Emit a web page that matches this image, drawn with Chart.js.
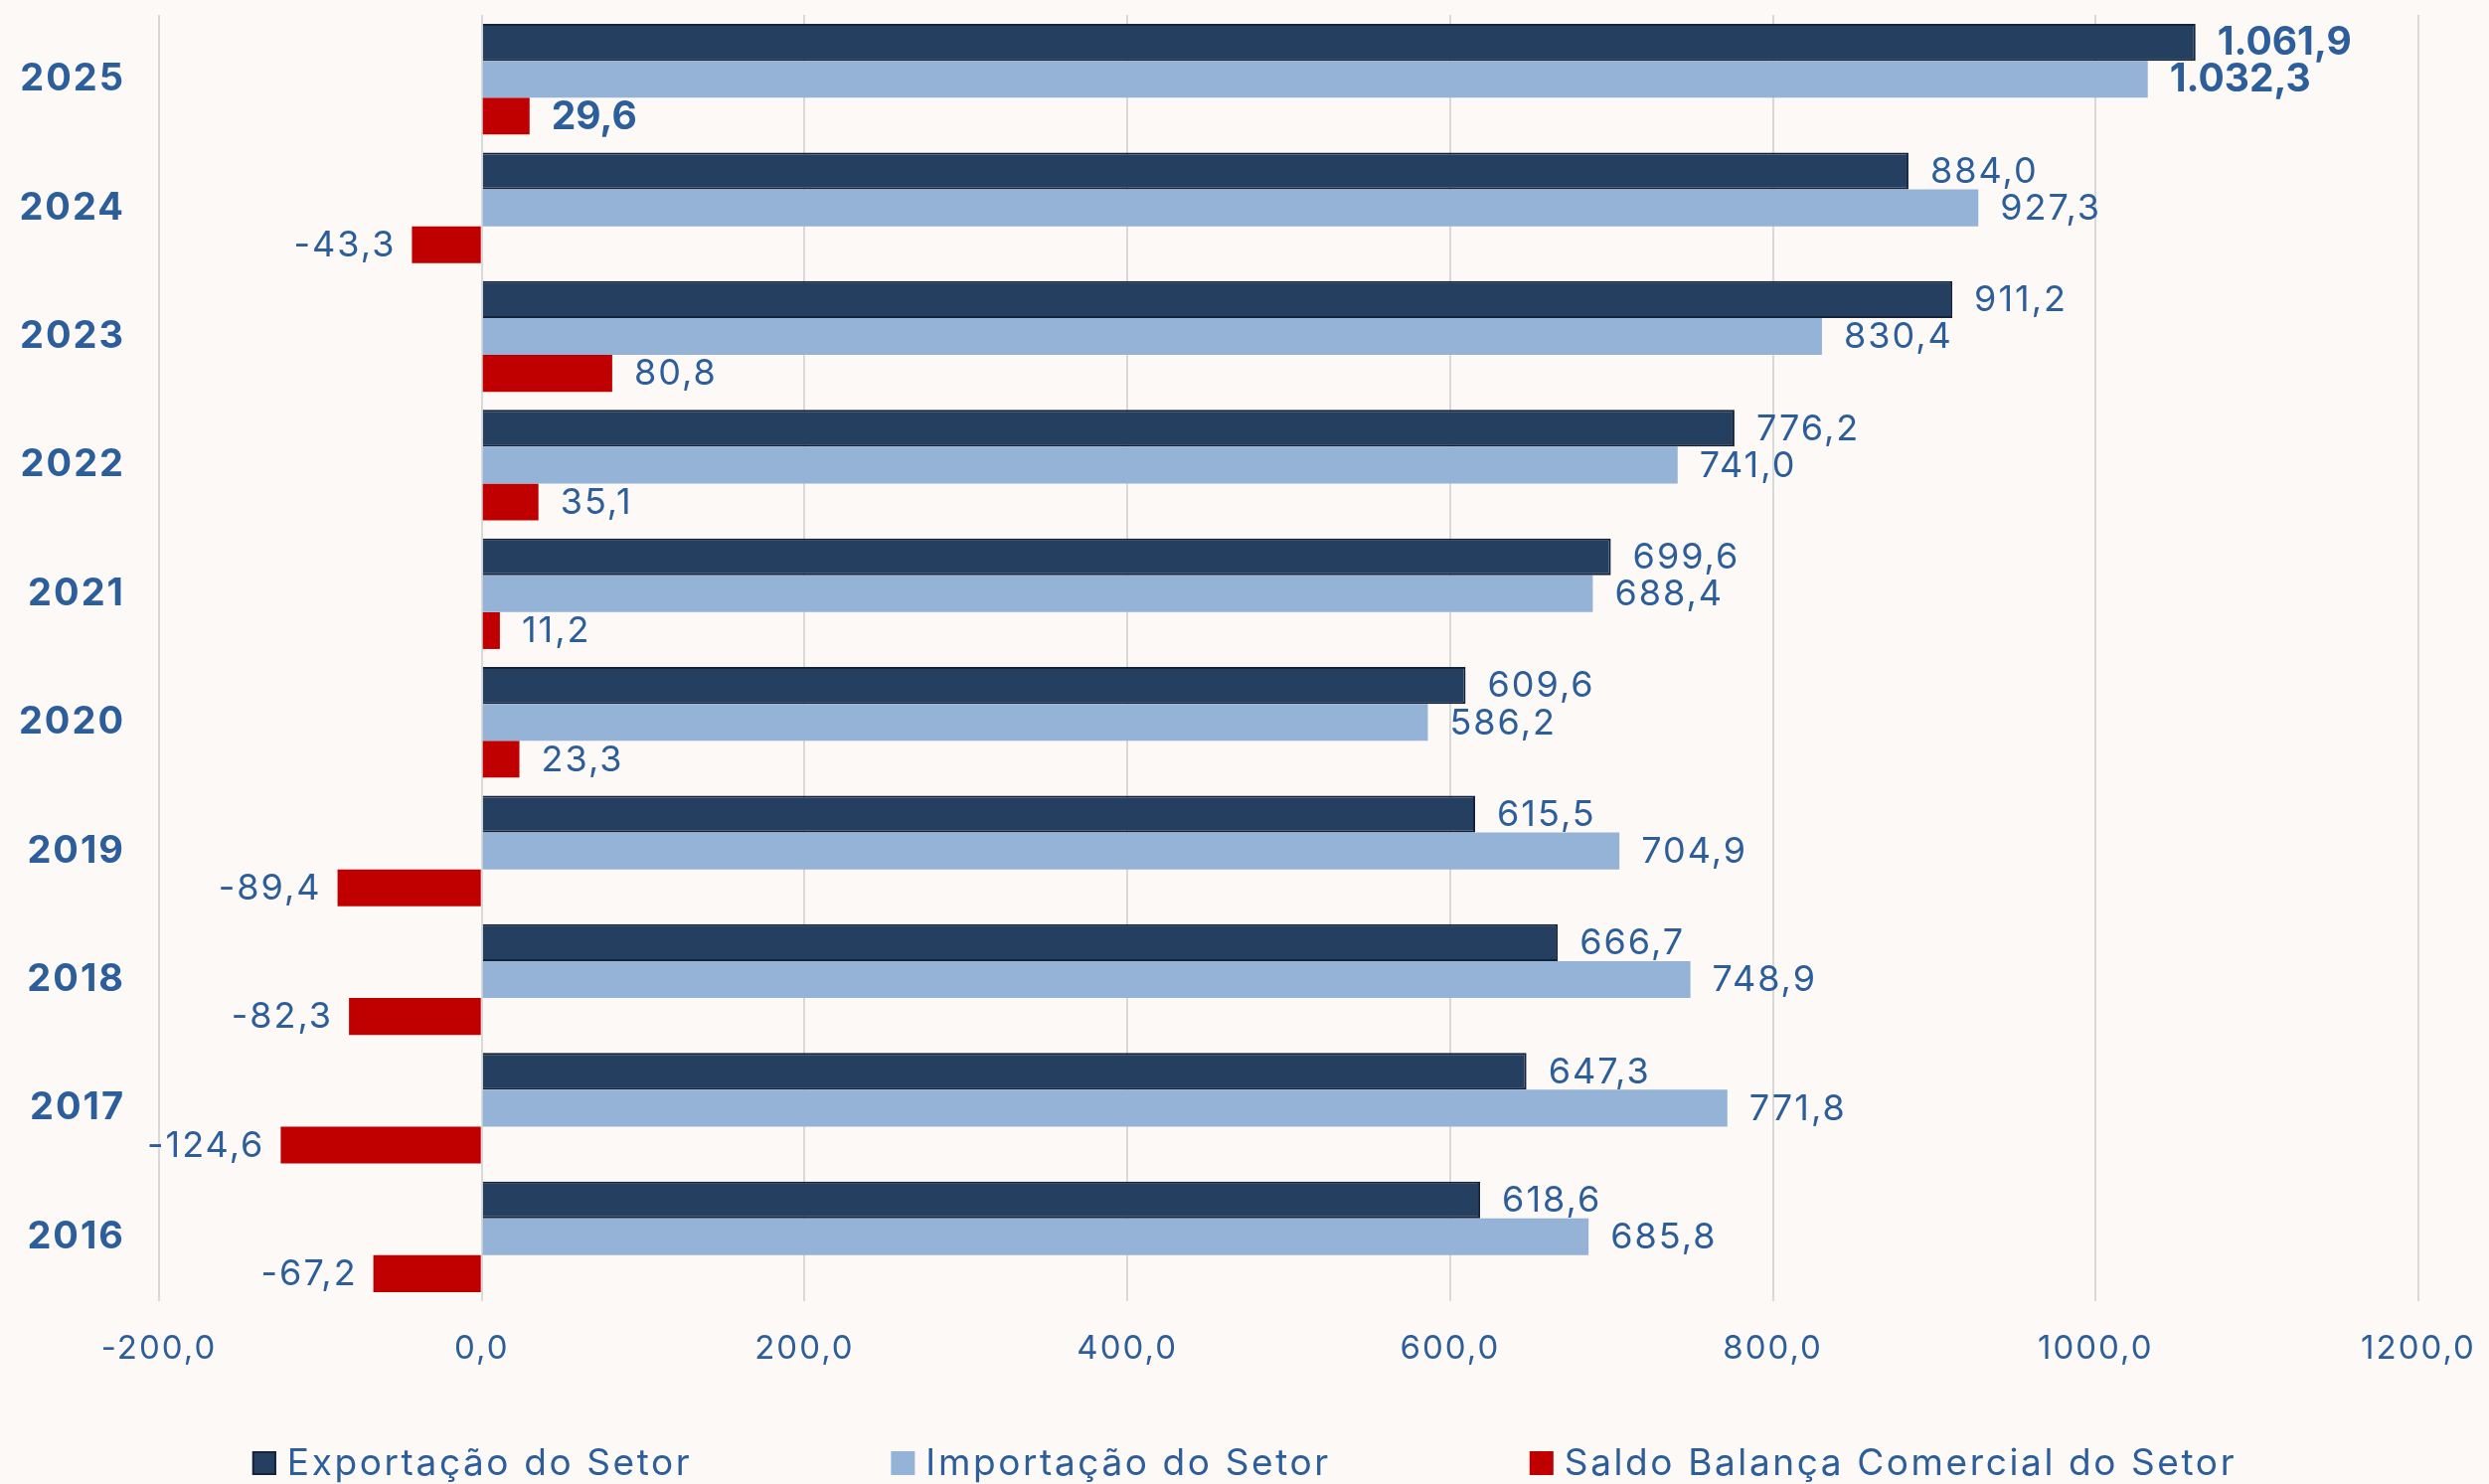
<!DOCTYPE html>
<html lang="pt-BR">
<head>
    <meta charset="UTF-8">
    <title>Balança Comercial do Setor</title>
    <script src="https://cdn.jsdelivr.net/npm/chart.js"></script>
    <style>
        html, body { margin: 0; padding: 0; background: #FDF9F6; }
        #wrap { width: 2504px; height: 1493px; position: relative; }
    </style>
</head>
<body>
    <div id="wrap"><canvas id="myChart"></canvas></div>

    <script>
        // Data (most recent year on top)
        const years = ['2025', '2024', '2023', '2022', '2021', '2020', '2019', '2018', '2017', '2016'];
        const exportacao = [1061.9, 884.0, 911.2, 776.2, 699.6, 609.6, 615.5, 666.7, 647.3, 618.6];
        const importacao = [1032.3, 927.3, 830.4, 741.0, 688.4, 586.2, 704.9, 748.9, 771.8, 685.8];
        const saldo = [29.6, -43.3, 80.8, 35.1, 11.2, 23.3, -89.4, -82.3, -124.6, -67.2];
        const seriesNames = ['Exportação do Setor', 'Importação do Setor', 'Saldo Balança Comercial do Setor'];

        const textBlue = '#2D5E9C';
        const fontFamily = 'Inter, "Noto Sans", sans-serif';

        // "1.061,9" style for labels, "1000,0" style for ticks
        function fmt(v, group) {
            let parts = Math.abs(v).toFixed(1).split('.');
            let int = parts[0];
            if (group) int = int.replace(/\B(?=(\d{3})+(?!\d))/g, '.');
            return (v < 0 ? '-' : '') + int + ',' + parts[1];
        }

        // wider text, closer to the original font
        const spacing = {
            id: 'spacing',
            beforeDraw(chart) {
                chart.ctx.letterSpacing = '2px';
            }
        };

        // value labels next to each bar
        const valueLabels = {
            id: 'valueLabels',
            afterDatasetsDraw(chart) {
                const ctx = chart.ctx;
                ctx.save();
                ctx.fillStyle = textBlue;
                ctx.textBaseline = 'middle';
                chart.data.datasets.forEach((ds, i) => {
                    chart.getDatasetMeta(i).data.forEach((bar, j) => {
                        const v = ds.data[j];
                        if (j === 0) {
                            ctx.font = 'bold 39px ' + fontFamily;
                            ctx.letterSpacing = '0px';
                        } else {
                            ctx.font = '36px ' + fontFamily;
                            ctx.letterSpacing = '2px';
                        }
                        if (v >= 0) {
                            ctx.textAlign = 'left';
                            ctx.fillText(fmt(v, true), bar.x + 22, bar.y + 1);
                        } else {
                            ctx.textAlign = 'right';
                            ctx.fillText(fmt(v, true), bar.x - 16, bar.y + 1);
                        }
                    });
                });
                ctx.restore();
            }
        };

        // legend along the bottom, items spaced like the original
        const bottomLegend = {
            id: 'bottomLegend',
            afterDraw(chart) {
                const ctx = chart.ctx;
                const box = 24, gapText = 11, gapItem = 200;
                ctx.save();
                ctx.font = '37px ' + fontFamily;
                ctx.letterSpacing = '2.6px';
                ctx.textBaseline = 'middle';
                ctx.textAlign = 'left';
                const items = chart.data.datasets.map(ds => ({
                    text: ds.label, fill: ds.backgroundColor, stroke: ds.borderColor,
                    w: box + gapText + ctx.measureText(ds.label).width
                }));
                const total = items.reduce((s, it) => s + it.w, 0) + gapItem * (items.length - 1);
                let x = (chart.width - total) / 2;
                const y = chart.height - 21;
                items.forEach(it => {
                    ctx.fillStyle = it.fill;
                    ctx.fillRect(x, y - box / 2, box, box);
                    if (it.stroke && it.stroke !== it.fill) {
                        ctx.strokeStyle = it.stroke;
                        ctx.lineWidth = 2;
                        ctx.strokeRect(x + 1, y - box / 2 + 1, box - 2, box - 2);
                    }
                    ctx.fillStyle = textBlue;
                    ctx.fillText(it.text, x + box + gapText, y + 1);
                    x += it.w + gapItem;
                });
                ctx.restore();
            }
        };

        function loadChart() {
            const ctx = document.getElementById('myChart').getContext('2d');
            new Chart(ctx, {
                type: 'bar',
                data: {
                    labels: years,
                    datasets: [{
                        label: seriesNames[0],
                        data: exportacao,
                        backgroundColor: '#253F60',
                        borderColor: '#14233A',
                        borderWidth: 2
                    }, {
                        label: seriesNames[1],
                        data: importacao,
                        backgroundColor: '#95B3D7',
                        borderColor: '#95B3D7',
                        borderWidth: 0
                    }, {
                        label: seriesNames[2],
                        data: saldo,
                        backgroundColor: '#C00000',
                        borderColor: '#C00000',
                        borderWidth: 0
                    }]
                },
                options: {
                    indexAxis: 'y',
                    responsive: true,
                    maintainAspectRatio: false,
                    animation: false,
                    datasets: {
                        bar: { categoryPercentage: 0.86, barPercentage: 1.0 }
                    },
                    layout: { padding: { top: 15, right: 71, left: 0, bottom: 0 } },
                    plugins: {
                        legend: { display: false },
                        tooltip: { enabled: false }
                    },
                    scales: {
                        x: {
                            min: -200,
                            max: 1200,
                            border: { display: false },
                            grid: { color: '#D9D9D9', lineWidth: 2, drawTicks: false },
                            ticks: {
                                stepSize: 200,
                                padding: 28,
                                color: textBlue,
                                font: { family: fontFamily, size: 33 },
                                callback: v => fmt(v, false)
                            },
                            afterFit: s => {
                                s.height = 184;
                                s.paddingLeft = 0;
                                s.paddingRight = 0;
                            }
                        },
                        y: {
                            border: { display: false },
                            grid: { display: false, drawTicks: false },
                            ticks: {
                                padding: 34,
                                color: textBlue,
                                font: { family: fontFamily, size: 38, weight: 'bold' }
                            },
                            afterFit: s => {
                                s.width = 160;
                                s.paddingTop = 0;
                                s.paddingBottom = 0;
                            }
                        }
                    }
                },
                plugins: [spacing, valueLabels, bottomLegend]
            });
        }

        window.onload = () => {
            loadChart();
        };
    </script>
</body>
</html>
